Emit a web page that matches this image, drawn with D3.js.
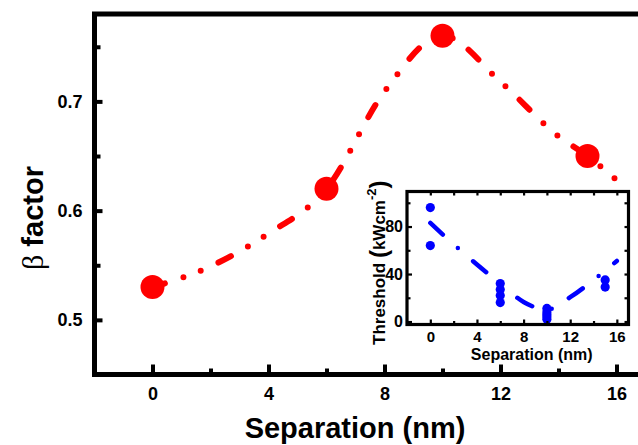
<!DOCTYPE html>
<html><head><meta charset="utf-8">
<script src="https://cdn.jsdelivr.net/npm/d3@7"></script>
<style>body{margin:0;background:#fff}svg{display:block}text{font-family:"Liberation Sans",Arial,sans-serif;font-weight:bold}</style>
</head><body>
<svg id="c" width="638" height="445"></svg>
<script>
// main series: beta factor vs separation
const sepX = [0, 6, 10, 15];
const betaY = [0.53, 0.62, 0.76, 0.65];
// guide-to-eye curve
const fitX = [0, 2, 4, 6, 8, 10, 12, 14, 15, 16];
const fitY = [0.53, 0.549, 0.579, 0.62, 0.709, 0.76, 0.718, 0.668, 0.65, 0.628];
const xTicks = [0, 4, 8, 12, 16];
const xMinor = [2, 6, 10, 14];
const yTicks = [0.5, 0.6, 0.7];
const yMinor = [0.55, 0.65, 0.75];
// inset: threshold vs separation
const insX = [0, 0, 6, 6, 6, 6, 10, 10, 10, 10, 10, 15, 15];
const insY = [96, 64, 32, 27, 22, 16, 11, 8, 6, 4, 2, 35, 29];
const insFitX = [0, 2, 4, 6, 8, 10, 12, 14, 16];
const insFitY = [83, 65, 48, 32, 16.5, 10, 20.5, 35, 51];
const insXTicks = [0, 4, 8, 12, 16];
const insXMinor = [2, 6, 10, 14];
const insYTicks = [0, 40, 80];
const insYMinor = [20, 60, 100];

const svg = d3.select("#c");
svg.append("rect").attr("width",638).attr("height",445).attr("fill","#fff");

const x = d3.scaleLinear().domain([-2, 18]).range([94.5, 674.5]);
const y = d3.scaleLinear().domain([0.45, 0.78]).range([374.5, 14]);

// fit line
const line = d3.line().x(d => x(d[0])).y(d => y(d[1])).curve(d3.curveMonotoneX);
svg.append("path").datum(fitX.map((v,i)=>[v,fitY[i]]))
  .attr("d", line).attr("fill","none").attr("stroke","#ff0000")
  .attr("stroke-width",6).attr("stroke-linecap","round")
  .attr("stroke-dasharray","14 19.5 0 18.5 0 19.5").attr("stroke-dashoffset",1);

svg.append("g").selectAll("circle").data(sepX.map((v,i)=>[v,betaY[i]])).join("circle")
  .attr("cx",d=>x(d[0])).attr("cy",d=>y(d[1])).attr("r",12).attr("fill","#ff0000");

// axes
const yAx = svg.append("g").attr("transform",`translate(${x(-2)},0)`)
  .call(d3.axisLeft(y).tickValues(yTicks).tickSizeInner(-8).tickSizeOuter(0).tickPadding(12).tickFormat(d3.format(".1f")));
const yAxm = svg.append("g").attr("transform",`translate(${x(-2)},0)`)
  .call(d3.axisLeft(y).tickValues(yMinor).tickSizeInner(-6).tickSizeOuter(0).tickFormat(""));
const xAx = svg.append("g").attr("transform",`translate(0,${y(0.45)})`)
  .call(d3.axisBottom(x).tickValues(xTicks).tickSizeInner(-10).tickSizeOuter(0).tickPadding(13).tickFormat(d3.format("d")));
const xAxm = svg.append("g").attr("transform",`translate(0,${y(0.45)})`)
  .call(d3.axisBottom(x).tickValues(xMinor).tickSizeInner(-6).tickSizeOuter(0).tickFormat(""));
[yAx,yAxm,xAx,xAxm].forEach(g=>{
  g.select(".domain").remove();
  g.selectAll(".tick line").attr("stroke","#000").attr("stroke-width",4);
  g.selectAll(".tick text").attr("fill","#000").style("font-size","18px").style("font-family","'Liberation Sans',Arial,sans-serif").style("font-weight","bold");
});
// frame
svg.append("path").attr("d",`M${x(-2)},${y(0.45)}V${y(0.78)}H660`).attr("fill","none").attr("stroke","#000").attr("stroke-width",5);
svg.append("path").attr("d",`M${x(-2)-2.5},${y(0.45)}H660`).attr("fill","none").attr("stroke","#000").attr("stroke-width",5);

// titles
svg.append("text").attr("x",355).attr("y",438).attr("text-anchor","middle").style("font-size","29px").text("Separation (nm)");
const yt = svg.append("text").attr("transform","translate(43,218) rotate(-90)").attr("text-anchor","middle").style("font-size","29px");
yt.append("tspan").style("font-family","'Liberation Serif','Times New Roman',serif").style("font-weight","normal").style("font-size","30px").text("β");
yt.append("tspan").text(" factor");

// inset
const ix = d3.scaleLinear().domain([-2, 17]).range([407, 628.5]);
const iy = d3.scaleLinear().domain([-2.5, 109.5]).range([324.5, 191.5]);
const ins = svg.append("g");
ins.append("rect").attr("x",ix(-2)).attr("y",iy(109.5)).attr("width",ix(17)-ix(-2)).attr("height",iy(-2.5)-iy(109.5)).attr("fill","#fff");
const iline = d3.line().x(d=>ix(d[0])).y(d=>iy(d[1])).curve(d3.curveMonotoneX);
ins.append("path").datum(insFitX.map((v,i)=>[v,insFitY[i]])).attr("d",iline)
  .attr("fill","none").attr("stroke","#0000ff").attr("stroke-width",4.5).attr("stroke-linecap","round")
  .attr("stroke-dasharray","17 20.2 0 20.2");
ins.append("g").selectAll("circle").data(insX.map((v,i)=>[v,insY[i]])).join("circle")
  .attr("cx",d=>ix(d[0])).attr("cy",d=>iy(d[1])).attr("r",4.6).attr("fill","#0000ff");

function styleAx(g, fs){
  g.select(".domain").remove();
  g.selectAll(".tick line").attr("stroke","#000").attr("stroke-width",2.2);
  g.selectAll(".tick text").attr("fill","#000").style("font-size",fs).style("font-family","'Liberation Sans',Arial,sans-serif").style("font-weight","bold");
}
const ib = ins.append("g").attr("transform",`translate(0,${iy(-2.5)})`)
  .call(d3.axisBottom(ix).tickValues(insXTicks).tickSizeInner(-5).tickSizeOuter(0).tickPadding(7).tickFormat(d3.format("d")));
styleAx(ib,"15px");
const ibm = ins.append("g").attr("transform",`translate(0,${iy(-2.5)})`)
  .call(d3.axisBottom(ix).tickValues(insXMinor).tickSizeInner(-3.5).tickSizeOuter(0).tickFormat(""));
styleAx(ibm,"15px");
const it = ins.append("g").attr("transform",`translate(0,${iy(109.5)})`)
  .call(d3.axisTop(ix).tickValues(insXTicks.concat(insXMinor)).tickSizeInner(-4).tickSizeOuter(0).tickFormat(""));
styleAx(it,"15px");
const il = ins.append("g").attr("transform",`translate(${ix(-2)},0)`)
  .call(d3.axisLeft(iy).tickValues(insYTicks).tickSizeInner(-5).tickSizeOuter(0).tickPadding(4).tickFormat(d3.format("d")));
styleAx(il,"16px");
const ilm = ins.append("g").attr("transform",`translate(${ix(-2)},0)`)
  .call(d3.axisLeft(iy).tickValues(insYMinor).tickSizeInner(-3.5).tickSizeOuter(0).tickFormat(""));
styleAx(ilm,"16px");
const ir = ins.append("g").attr("transform",`translate(${ix(17)},0)`)
  .call(d3.axisRight(iy).tickValues(insYTicks.concat(insYMinor)).tickSizeInner(-4).tickSizeOuter(0).tickFormat(""));
styleAx(ir,"16px");
ins.append("rect").attr("x",ix(-2)).attr("y",iy(109.5)).attr("width",ix(17)-ix(-2)).attr("height",iy(-2.5)-iy(109.5))
  .attr("fill","none").attr("stroke","#000").attr("stroke-width",3.2);

ins.append("text").attr("x",(ix(-2)+ix(17))/2 + 14).attr("y",360).attr("text-anchor","middle").style("font-size","16px").text("Separation (nm)");
const iyt = ins.append("text").attr("transform","translate(385,345) rotate(-90)").attr("text-anchor","start").style("font-size","17px");
iyt.append("tspan").text("Threshold ");
iyt.append("tspan").style("font-size","24px").attr("dy",2).text("(");
iyt.append("tspan").attr("dy",-2).text("kWcm");
iyt.append("tspan").style("font-size","13px").attr("dy",-9).text("-2");
iyt.append("tspan").style("font-size","24px").attr("dy",11).text(")");
</script>
</body></html>
